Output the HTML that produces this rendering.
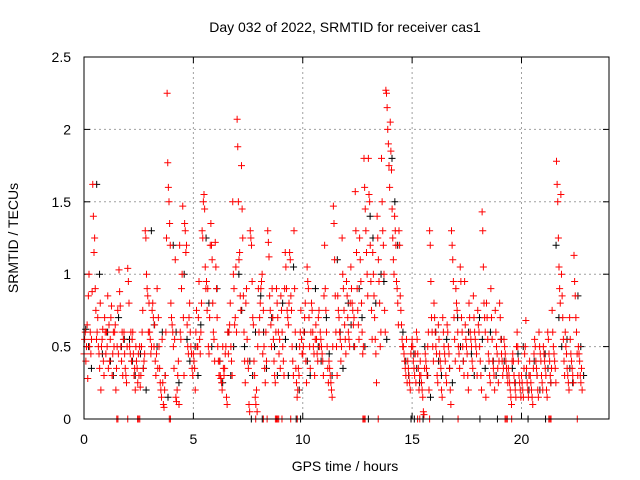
<!DOCTYPE html>
<html><head><meta charset="utf-8"><style>
body{margin:0;background:#fff;width:640px;height:480px;overflow:hidden}
svg{display:block;font-family:"Liberation Sans",sans-serif}
</style></head><body>
<svg id="chart" width="640" height="480" xmlns="http://www.w3.org/2000/svg">
<rect width="640" height="480" fill="#fff"/>
<text x="345" y="32" font-size="14" text-anchor="middle">Day 032 of 2022, SRMTID for receiver cas1</text>
<text x="345" y="471" font-size="14" text-anchor="middle">GPS time / hours</text>
<text transform="translate(18,238) rotate(-90)" font-size="14" text-anchor="middle">SRMTID / TECUs</text>
<g id="grid"></g>
<g id="ticks"></g>
<g id="black"></g>
<g id="red"></g>
<rect x="84" y="57" width="525" height="362" fill="none" stroke="#000" stroke-width="1"/>
</svg>
<script>
const xTicks=[0,5,10,15,20];
const yTicks=[0,0.5,1,1.5,2,2.5];
const yTickLabels=["0","0.5","1","1.5","2","2.5"];
const redT=[0.0,0.2,0.4,0.6,0.8,1.0,1.2,1.4,1.6,1.8,2.0,2.2,2.4,2.6,2.8,3.0,3.2,3.4,3.6,3.8,4.0,4.2,4.4,4.6,4.8,5.0,5.2,5.4,5.6,5.8,6.0,6.2,6.4,6.6,6.8,7.0,7.2,7.4,7.6,7.8,8.0,8.2,8.4,8.6,8.8,9.0,9.2,9.4,9.6,9.8,10.0,10.2,10.4,10.6,10.8,11.0,11.2,11.4,11.6,11.8,12.0,12.2,12.4,12.6,12.8,13.0,13.2,13.4,13.6,13.8,14.0,14.2,14.4,14.6,14.8,15.0,15.2,15.4,15.6,15.8,16.0,16.2,16.4,16.6,16.8,17.0,17.2,17.4,17.6,17.8,18.0,18.2,18.4,18.6,18.8,19.0,19.2,19.4,19.6,19.8,20.0,20.2,20.4,20.6,20.8,21.0,21.2,21.4,21.6,21.8,22.0,22.2,22.4,22.6];
const redV=[
[0.45,0.55,0.6,0.4,0.5,0.65,0.28],[0.85,1.0,0.5,0.6,0.45,0.55,0.88],[1.62,1.4,1.15,1.25,0.9,0.75,0.55],[0.6,0.7,0.5,0.45,0.35,0.8,0.2],[0.5,0.55,0.62,0.4,0.3,0.7,0.6],[0.45,0.6,0.5,0.85,0.35,0.65,0.4],[0.55,0.7,0.78,0.3,0.45,0.6,0.5],[0.6,0.65,0.2,0.35,0.5,0.75,0.45],[1.03,0.88,0.78,0.5,0.4,0.6,0.3],[0.55,0.6,0.45,0.35,0.3,0.25,0.5],
[1.04,0.95,0.8,0.5,0.45,0.6,0.4],[0.55,0.6,0.45,0.3,0.35,0.2,0.5],[0.4,0.35,0.25,0.45,0.3,0.5,0.22],[0.3,0.5,0.6,0.75,0.35,0.4,0.45],[1.3,1.25,1.0,0.9,0.85,0.6,0.8],[0.6,0.55,0.45,0.5,0.75,0.8,0.7],[0.5,0.65,0.4,0.3,0.45,0.9,0.35],[0.7,0.5,0.35,0.25,0.2,0.15,0.55],[0.25,0.1,0.08,0.2,0.3,0.6,1.25],[2.25,1.77,1.6,1.5,1.35,1.2,0.8],
[0.7,0.65,0.6,0.5,0.35,0.55,1.1],[0.15,0.12,0.2,0.3,0.4,0.1,1.2],[0.6,0.55,0.9,1.0,1.47,0.7,0.3],[1.35,1.3,1.15,1.2,0.65,0.5,0.45],[0.7,0.8,0.6,0.5,0.45,0.35,0.3],[0.45,0.4,0.35,0.2,0.6,0.75,0.5],[0.5,0.7,0.95,0.55,0.45,0.6,0.8],[1.3,1.25,1.5,1.55,1.45,1.05,0.9],[0.95,0.75,0.9,0.5,0.45,0.7,1.2],[1.35,1.2,1.1,0.8,0.6,0.55,0.4],
[1.22,1.05,0.9,0.7,0.5,0.4,0.3],[0.4,0.3,0.28,0.25,0.2,0.5,0.35],[0.3,0.35,0.45,0.5,0.15,0.1,0.6],[0.45,0.6,0.65,0.8,0.5,0.4,0.3],[1.5,1.0,0.9,0.65,0.7,1.05,0.6],[2.07,1.88,1.5,1.1,1.15,0.85,0.75],[1.75,1.45,1.25,0.85,0.6,0.4,0.25],[0.8,0.9,0.55,0.4,0.35,0.1,0.05],[1.3,1.25,1.2,0.95,0.7,0.65,0.4],[0.3,0.15,0.1,0.2,0.05,0.5,0.9],
[0.6,0.7,0.8,0.9,0.95,1.0,0.45],[0.75,0.5,0.35,0.25,0.6,0.4,0.0],[1.3,1.22,1.12,0.85,0.75,0.65,0.5],[0.9,0.7,0.55,0.4,0.3,0.25,0.6],[0.9,0.8,0.7,0.6,0.45,0.55,0.35],[0.85,0.75,0.6,0.5,0.4,0.3,0.9],[1.15,1.05,0.9,0.75,0.7,0.65,0.8],[1.15,1.1,0.85,0.75,0.5,0.4,0.3],[1.3,0.9,0.6,0.35,0.25,0.15,0.2],[0.35,0.3,0.5,0.6,0.75,0.55,0.45],
[0.45,0.5,0.6,0.7,0.8,0.4,0.25],[1.05,0.95,0.9,0.7,0.5,0.35,0.6],[0.8,0.75,0.6,0.5,0.45,0.3,0.55],[0.65,0.55,0.45,0.4,0.7,0.75,0.5],[0.6,0.55,0.5,0.45,0.4,0.3,0.85],[1.2,0.9,0.75,0.6,0.5,0.35,0.25],[0.4,0.35,0.3,0.25,0.2,0.15,0.5],[1.47,1.35,1.1,0.85,0.6,0.5,0.3],[0.85,0.75,0.7,0.6,0.55,0.4,0.5],[1.25,1.0,0.9,0.75,0.65,0.55,0.45],
[0.95,0.85,0.7,0.6,0.55,0.5,0.8],[1.05,0.9,0.8,0.75,0.65,0.7,0.5],[1.57,1.3,1.15,0.9,0.75,0.65,0.55],[1.25,1.1,0.95,0.8,0.6,0.45,0.5],[1.8,1.6,1.45,1.3,1.15,1.0,0.85],[1.8,1.55,1.5,1.2,0.95,0.75,0.55],[1.15,1.0,0.85,0.7,0.55,0.45,0.25],[1.4,1.25,1.1,0.95,0.8,0.5,0.6],[1.8,1.5,1.3,1.2,1.0,0.75,0.6],[2.27,2.25,2.15,2.0,1.9,1.75,1.6],
[2.05,1.85,1.72,1.45,1.25,1.1,1.0],[1.4,1.3,1.2,0.95,0.9,0.8,0.65],[1.3,1.2,0.85,0.75,0.65,0.55,0.5],[0.5,0.45,0.4,0.35,0.3,0.55,0.25],[0.4,0.35,0.3,0.25,0.2,0.45,0.5],[0.55,0.5,0.4,0.35,0.3,0.45,0.25],[0.6,0.55,0.45,0.35,0.2,0.3,0.4],[0.3,0.25,0.2,0.15,0.05,0.03,0.35],[0.45,0.4,0.35,0.3,0.5,0.6,0.2],[1.3,1.2,0.95,0.7,0.6,0.5,0.4],
[0.8,0.7,0.6,0.5,0.45,0.3,0.25],[0.65,0.55,0.45,0.4,0.35,0.2,0.15],[0.7,0.6,0.5,0.45,0.4,0.3,0.25],[0.65,0.6,0.5,0.45,0.35,0.2,0.1],[1.3,1.2,1.1,0.95,0.7,0.55,0.4],[0.9,0.8,0.75,0.6,0.5,0.45,0.35],[1.05,0.95,0.7,0.6,0.5,0.4,0.3],[0.95,0.65,0.55,0.5,0.45,0.3,0.2],[0.8,0.7,0.6,0.55,0.5,0.4,0.35],[0.85,0.7,0.6,0.55,0.5,0.45,0.3],
[0.75,0.65,0.6,0.5,0.4,0.3,0.2],[1.43,1.3,1.05,0.8,0.7,0.6,0.15],[0.8,0.7,0.55,0.45,0.4,0.3,0.25],[0.9,0.7,0.55,0.4,0.35,0.3,0.2],[0.75,0.6,0.5,0.45,0.35,0.25,0.4],[0.8,0.7,0.55,0.45,0.4,0.3,0.35],[0.55,0.5,0.45,0.4,0.35,0.3,0.25],[0.35,0.3,0.25,0.2,0.15,0.1,0.4],[0.45,0.4,0.3,0.25,0.2,0.15,0.5],[0.6,0.5,0.4,0.3,0.25,0.2,0.15],
[0.3,0.25,0.2,0.15,0.35,0.45,0.5],[0.68,0.35,0.25,0.2,0.15,0.3,0.4],[0.3,0.25,0.2,0.15,0.1,0.35,0.45],[0.55,0.5,0.4,0.35,0.3,0.2,0.15],[0.6,0.5,0.45,0.4,0.3,0.25,0.2],[0.5,0.45,0.4,0.35,0.3,0.2,0.15],[0.6,0.55,0.45,0.4,0.3,0.25,0.35],[0.75,0.6,0.5,0.45,0.4,0.35,0.25],[1.78,1.62,1.5,1.25,1.05,0.9,0.8],[1.55,1.0,0.85,0.7,0.55,0.4,0.3],
[0.6,0.5,0.45,0.35,0.3,0.25,0.2],[0.7,0.55,0.45,0.4,0.35,0.3,0.25],[1.13,0.95,0.85,0.7,0.6,0.45,0.3],[0.5,0.45,0.4,0.3,0.25,0.35,0.2]];
const redZeroT=[1.5,1.55,2.0,2.45,2.5,2.55,3.9,3.95,7.85,8.2,8.75,8.8,8.85,8.9,9.05,9.45,9.75,12.75,12.8,12.85,13.45,15.25,15.35,15.8,17.1,19.25,19.3,19.35,19.55,21.25,21.3,21.35,22.55];
const blackT=[0,0.5,1,1.5,2,2.5,3,3.5,4,4.5,5,5.5,6,6.5,7,7.5,8,8.5,9,9.5,10,10.5,11,11.5,12,12.5,13,13.5,14,14.5,15,15.5,16,16.5,17,17.5,18,18.5,19,19.5,20,20.5,21,21.5,22,22.5];
const blackV=[[0.62,0.5,0.35],[1.62,1.0,0.45],[0.6,0.4,0.3],[0.7,0.5,0.55],[0.55,0.4,0.3],[0.45,0.35,0.2],[1.3,0.65,0.5],[0.6,0.3,0.15],[1.2,0.6,0.25],[1.0,0.55,0.4],[0.5,0.3,0.65],[1.25,0.8,0.5],[0.9,0.4,0.25],[0.6,0.3,0.5],[1.0,0.75,0.5],[0.4,0.3,0.6],[0.85,0.6,0.35],[0.7,0.5,0.3],[0.8,0.55,0.3],[1.05,0.5,0.2],[0.6,0.4,0.3],[0.9,0.5,0.4],[0.7,0.45,0.3],[1.1,0.6,0.35],[0.8,0.65,0.5],[0.9,0.7,0.5],[1.4,1.25,0.8],[1.0,0.95,0.55],[1.8,1.5,1.2],[0.6,0.4,0.3],[0.45,0.35,0.25],[0.5,0.3,0.15],[0.6,0.4,0.3],[0.55,0.35,0.25],[0.7,0.5,0.4],[0.6,0.45,0.3],[0.7,0.55,0.35],[0.6,0.4,0.3],[0.55,0.4,0.3],[0.35,0.25,0.45],[0.5,0.3,0.2],[0.4,0.3,0.2],[0.45,0.35,0.25],[1.2,0.7,0.5],[0.55,0.35,0.25],[0.85,0.5,0.3]];
const blackZeroT=[7.65,8.15,9.7,9.9,13.0,14.95,15.1,15.5,16.4,18.1,18.9,20.3,21.1];

const NS="http://www.w3.org/2000/svg";
const X0=84,X1=609,Y0=419,Y1=57,XMAX=24,YMAX=2.5;
function xs(t){return X0+(X1-X0)*t/XMAX;}
function ys(v){return Y0-(Y0-Y1)*v/YMAX;}
function mk(tag,attrs,parent){const e=document.createElementNS(NS,tag);for(const k in attrs)e.setAttribute(k,attrs[k]);parent.appendChild(e);return e;}
const grid=document.getElementById('grid'),ticks=document.getElementById('ticks'),svg=document.getElementById('chart');
xTicks.forEach(t=>{const x=xs(t);
 if(t>0){const g=mk('line',{x1:x,y1:Y0,x2:x,y2:Y1,stroke:'#a0a0a0','stroke-dasharray':'2,3'},grid);
 
 }
 mk('line',{x1:x,y1:Y0,x2:x,y2:Y0-6,stroke:'#000'},ticks);mk('line',{x1:x,y1:Y1,x2:x,y2:Y1+6,stroke:'#000'},ticks);
 const l=mk('text',{x:x,y:444,'font-size':14,'text-anchor':'middle'},svg);l.textContent=String(t);
 
 });
yTicks.forEach((v,i)=>{const y=ys(v);
 if(v>0&&v<YMAX){const g=mk('line',{x1:X0,y1:y,x2:X1,y2:y,stroke:'#a0a0a0','stroke-dasharray':'2,3'},grid);
 
 }
 mk('line',{x1:X0,y1:y,x2:X0+6,y2:y,stroke:'#000'},ticks);mk('line',{x1:X1,y1:y,x2:X1-6,y2:y,stroke:'#000'},ticks);
 const l=mk('text',{x:71,y:y+5,'font-size':14,'text-anchor':'end'},svg);l.textContent=yTickLabels[i];
 
 });
function plus(g,t,v,color){const x=xs(t),y=ys(v);
 const p=mk('path',{d:`M${x-3.5},${y}h7M${x},${y-3.5}v7`,stroke:color,'stroke-width':1,fill:'none'},g);
 
 }
const bg=document.getElementById('black'),rg=document.getElementById('red');
blackT.forEach((t,i)=>blackV[i].forEach((v,j)=>plus(bg,t+0.08+j*0.13,v,'#000')));
blackZeroT.forEach(t=>plus(bg,t,0,'#000'));
redT.forEach((t,i)=>redV[i].forEach((v,j)=>plus(rg,t+j*0.2/7,v,'#ff0000')));
redZeroT.forEach(t=>plus(rg,t,0,'#ff0000'));
</script>
</body></html>
